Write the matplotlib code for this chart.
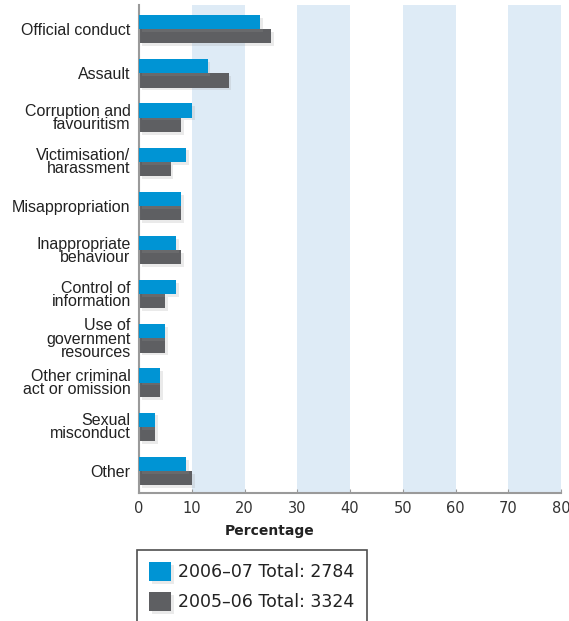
import matplotlib
matplotlib.use("Agg")
from matplotlib import pyplot as plt
from matplotlib import patheffects as pe
import numpy as np

categories = [
    "Official conduct",
    "Assault",
    "Corruption and\nfavouritism",
    "Victimisation/\nharassment",
    "Misappropriation",
    "Inappropriate\nbehaviour",
    "Control of\ninformation",
    "Use of\ngovernment\nresources",
    "Other criminal\nact or omission",
    "Sexual\nmisconduct",
    "Other",
]
pct_2006_07 = [23, 13, 10, 9, 8, 7, 7, 5, 4, 3, 9]
pct_2005_06 = [25, 17, 8, 6, 8, 8, 5, 5, 4, 3, 10]
series_labels = ["2006\u201307 Total: 2784", "2005\u201306 Total: 3324"]
x_ticks = [0, 10, 20, 30, 40, 50, 60, 70, 80]

blue = "#0094d4"
grey = "#5e5f62"
stripe = "#deebf6"
axis_grey = "#9a9a9a"

fig = plt.figure(figsize=(5.69, 6.21), dpi=100)
ax = fig.add_axes([139 / 569, 1 - 493 / 621, (561 - 139) / 569, (493 - 5) / 621])

# alternating light-blue bands behind the bars
for lo in range(10, 80, 20):
    ax.axvspan(lo, lo + 10, color=stripe, lw=0, zorder=0)

shadow = [pe.SimplePatchShadow(offset=(2, -2), shadow_rgbFace="#999999", alpha=0.2),
          pe.Normal()]

y = np.arange(len(categories))
h = 0.32
b1 = ax.barh(y - h / 2, pct_2006_07, height=h, color=blue, zorder=3,
             label=series_labels[0])
b2 = ax.barh(y + h / 2, pct_2005_06, height=h, color=grey, zorder=2,
             label=series_labels[1])
for bar in list(b1) + list(b2):
    bar.set_path_effects(shadow)

ax.set_xlim(0, 80)
ax.set_ylim(10.5, -0.55)
ax.set_xticks(x_ticks)
ax.set_xticklabels([str(t) for t in x_ticks], fontsize=10.5, color="#333333")
ax.set_yticks(y)
ax.set_yticklabels(categories, fontsize=11.5, color="#222222",
                   family="Liberation Sans", linespacing=0.85)
ax.tick_params(axis="y", length=0, pad=6)
ax.tick_params(axis="x", direction="in", length=3, color=axis_grey, pad=6)
for s in ["top", "right"]:
    ax.spines[s].set_visible(False)
for s in ["left", "bottom"]:
    ax.spines[s].set_color(axis_grey)
    ax.spines[s].set_linewidth(1.5)

fig.text(270 / 569, 1 - 531 / 621, "Percentage", ha="center", va="center",
         fontsize=10, fontweight="bold", color="#222222")

leg = ax.legend(handles=[b1, b2], loc="upper left",
                bbox_to_anchor=(137 / 569, 1 - 550 / 621),
                bbox_transform=fig.transFigure, fontsize=12.5,
                frameon=True, fancybox=False, borderaxespad=0,
                handlelength=1.27, handleheight=1.27, handletextpad=0.4,
                labelspacing=0.63, borderpad=0.7)
leg.get_frame().set_edgecolor("#222222")
leg.get_frame().set_linewidth(1.2)
for t in leg.get_texts():
    t.set_color("#222222")

fig.savefig("out.png", dpi=100)
